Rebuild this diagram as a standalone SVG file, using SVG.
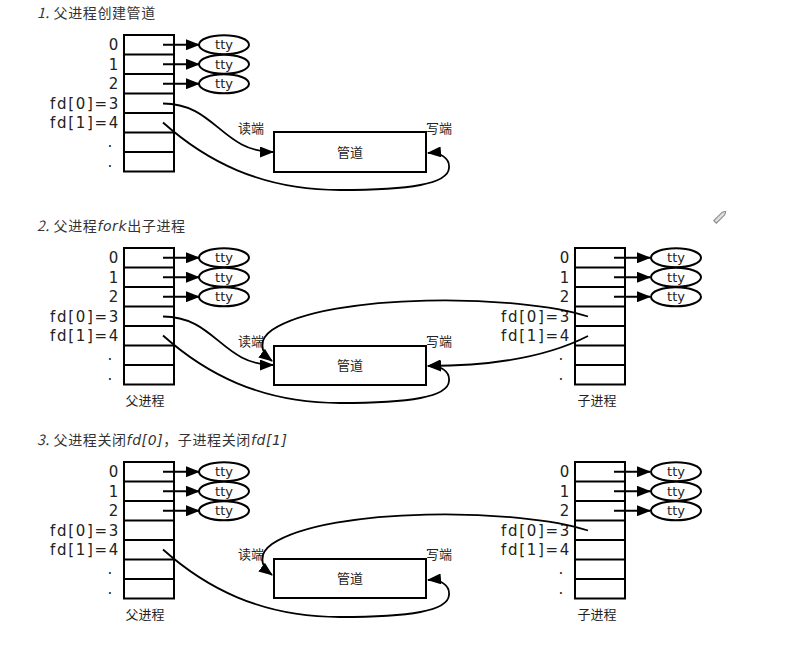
<svg xmlns="http://www.w3.org/2000/svg" width="799" height="669" viewBox="0 0 799 669">
<defs>
<marker id="ah" markerWidth="14" markerHeight="11" refX="13" refY="5.5" orient="auto" markerUnits="userSpaceOnUse">
<path d="M0,0 L14,5.5 L0,11 z" fill="#000"/>
</marker>
<g id="fdtable">
<rect x="124" y="0" width="50" height="136.5" fill="#fff" stroke="#000" stroke-width="2"/>
<path d="M124,19.5 H174 M124,39 H174 M124,58.5 H174 M124,78 H174 M124,97.5 H174 M124,117 H174" stroke="#000" stroke-width="2" fill="none"/>
</g>
</defs>
<style>
.t{font-family:"Noto Sans CJK SC",sans-serif;font-size:13px;fill:#222}
.title{font-family:"Noto Sans CJK SC",sans-serif;font-size:14px;fill:#333;letter-spacing:0.6px}
.lbl{font-family:"DejaVu Sans",sans-serif;font-size:15px;fill:#222;text-anchor:end;letter-spacing:1.7px}
.tty{font-family:"DejaVu Sans",sans-serif;font-size:13px;fill:#222;text-anchor:middle}
.ell{fill:#fff;stroke:#000;stroke-width:2}
.ar{stroke:#000;stroke-width:1.8;fill:none;marker-end:url(#ah)}
.pipe{fill:#fff;stroke:#000;stroke-width:2}
.cj{font-family:"Noto Sans CJK SC",sans-serif;font-size:13px;fill:#222;text-anchor:middle}
</style>
<rect width="799" height="669" fill="#fff"/>

<text class="title" x="37" y="18"><tspan font-style="italic">1. </tspan>父进程创建管道</text>
<text class="title" x="37" y="231"><tspan font-style="italic">2. </tspan>父进程<tspan font-style="italic" font-family="DejaVu Sans">fork</tspan>出子进程</text>
<text class="title" x="37" y="445"><tspan font-style="italic">3. </tspan>父进程关闭<tspan font-style="italic" font-family="DejaVu Sans">fd[0]</tspan>，子进程关闭<tspan font-style="italic" font-family="DejaVu Sans">fd[1]</tspan></text>

<!-- Section 1 -->
<g id="s1-parent" transform="translate(0,35)">
<use href="#fdtable"/>
<text class="lbl" x="120" y="15">0</text>
<text class="lbl" x="120" y="34.5">1</text>
<text class="lbl" x="120" y="54">2</text>
<text class="lbl" x="120" y="73.5">fd[0]=3</text>
<text class="lbl" x="120" y="93">fd[1]=4</text>
<text class="lbl" x="114" y="112">.</text>
<text class="lbl" x="114" y="131.5">.</text>
<ellipse class="ell" cx="224" cy="9.75" rx="25" ry="9.5"/>
<ellipse class="ell" cx="224" cy="29.25" rx="25" ry="9.5"/>
<ellipse class="ell" cx="224" cy="48.75" rx="25" ry="9.5"/>
<text class="tty" x="224" y="14">tty</text>
<text class="tty" x="224" y="33.5">tty</text>
<text class="tty" x="224" y="53">tty</text>
</g>
<g id="s1-pipe">
<rect class="pipe" x="274" y="132" width="152" height="40"/>
<text class="cj" x="350" y="157">管道</text>
<text class="t" x="238" y="133">读端</text>
<text class="t" x="426" y="133">写端</text>
</g>
<g id="s1-connectors">
<path class="ar" d="M163,44.75 H199"/>
<path class="ar" d="M163,64.25 H199"/>
<path class="ar" d="M163,83.75 H199"/>
<path class="ar" d="M163,103.5 C215,103.5 222,152 273,152"/>
<path class="ar" d="M163,122.5 C205,160 260,190 340,190 C410,190 448,184 449,168 C450,158 440,152 428,153"/>
</g>

<!-- Section 2 -->
<g id="s2-parent" transform="translate(0,248)">
<use href="#fdtable"/>
<text class="lbl" x="120" y="15">0</text>
<text class="lbl" x="120" y="34.5">1</text>
<text class="lbl" x="120" y="54">2</text>
<text class="lbl" x="120" y="73.5">fd[0]=3</text>
<text class="lbl" x="120" y="93">fd[1]=4</text>
<text class="lbl" x="114" y="112">.</text>
<text class="lbl" x="114" y="131.5">.</text>
<ellipse class="ell" cx="224" cy="9.75" rx="25" ry="9.5"/>
<ellipse class="ell" cx="224" cy="29.25" rx="25" ry="9.5"/>
<ellipse class="ell" cx="224" cy="48.75" rx="25" ry="9.5"/>
<text class="tty" x="224" y="14">tty</text>
<text class="tty" x="224" y="33.5">tty</text>
<text class="tty" x="224" y="53">tty</text>
<text class="cj" x="145" y="157">父进程</text>
</g>
<g id="s2-child" transform="translate(451,248)">
<use href="#fdtable"/>
<text class="lbl" x="120" y="15">0</text>
<text class="lbl" x="120" y="34.5">1</text>
<text class="lbl" x="120" y="54">2</text>
<text class="lbl" x="120" y="73.5">fd[0]=3</text>
<text class="lbl" x="120" y="93">fd[1]=4</text>
<text class="lbl" x="114" y="112">.</text>
<text class="lbl" x="114" y="131.5">.</text>
<ellipse class="ell" cx="225" cy="9.75" rx="25" ry="9.5"/>
<ellipse class="ell" cx="225" cy="29.25" rx="25" ry="9.5"/>
<ellipse class="ell" cx="225" cy="48.75" rx="25" ry="9.5"/>
<text class="tty" x="225" y="14">tty</text>
<text class="tty" x="225" y="33.5">tty</text>
<text class="tty" x="225" y="53">tty</text>
<text class="cj" x="146" y="157">子进程</text>
</g>
<g id="s2-pipe">
<rect class="pipe" x="274" y="346" width="152" height="39"/>
<text class="cj" x="350" y="370">管道</text>
<text class="t" x="238" y="346">读端</text>
<text class="t" x="426" y="346">写端</text>
</g>
<g id="s2-connectors">
<path class="ar" d="M163,257.75 H199"/>
<path class="ar" d="M163,277.25 H199"/>
<path class="ar" d="M163,296.75 H199"/>
<path class="ar" d="M614,257.75 H650"/>
<path class="ar" d="M614,277.25 H650"/>
<path class="ar" d="M614,296.75 H650"/>
<path class="ar" d="M163,316.5 C215,316.5 222,365 273,365"/>
<path class="ar" d="M163,335.5 C205,373 260,403 340,403 C410,403 448,397 449,381 C450,371 440,365 428,366"/>
<path class="ar" d="M588,316.5 C520,294 330,292 272,330 C258,340 260,352 272,361"/>
<path class="ar" d="M588,336 C545,358 490,366 428,366"/>
</g>

<!-- Section 3 -->
<g id="s3-parent" transform="translate(0,462)">
<use href="#fdtable"/>
<text class="lbl" x="120" y="15">0</text>
<text class="lbl" x="120" y="34.5">1</text>
<text class="lbl" x="120" y="54">2</text>
<text class="lbl" x="120" y="73.5">fd[0]=3</text>
<text class="lbl" x="120" y="93">fd[1]=4</text>
<text class="lbl" x="114" y="112">.</text>
<text class="lbl" x="114" y="131.5">.</text>
<ellipse class="ell" cx="224" cy="9.75" rx="25" ry="9.5"/>
<ellipse class="ell" cx="224" cy="29.25" rx="25" ry="9.5"/>
<ellipse class="ell" cx="224" cy="48.75" rx="25" ry="9.5"/>
<text class="tty" x="224" y="14">tty</text>
<text class="tty" x="224" y="33.5">tty</text>
<text class="tty" x="224" y="53">tty</text>
<text class="cj" x="145" y="157">父进程</text>
</g>
<g id="s3-child" transform="translate(451,462)">
<use href="#fdtable"/>
<text class="lbl" x="120" y="15">0</text>
<text class="lbl" x="120" y="34.5">1</text>
<text class="lbl" x="120" y="54">2</text>
<text class="lbl" x="120" y="73.5">fd[0]=3</text>
<text class="lbl" x="120" y="93">fd[1]=4</text>
<text class="lbl" x="114" y="112">.</text>
<text class="lbl" x="114" y="131.5">.</text>
<ellipse class="ell" cx="225" cy="9.75" rx="25" ry="9.5"/>
<ellipse class="ell" cx="225" cy="29.25" rx="25" ry="9.5"/>
<ellipse class="ell" cx="225" cy="48.75" rx="25" ry="9.5"/>
<text class="tty" x="225" y="14">tty</text>
<text class="tty" x="225" y="33.5">tty</text>
<text class="tty" x="225" y="53">tty</text>
<text class="cj" x="146" y="157">子进程</text>
</g>
<g id="s3-pipe">
<rect class="pipe" x="274" y="559" width="152" height="39"/>
<text class="cj" x="350" y="583">管道</text>
<text class="t" x="238" y="559">读端</text>
<text class="t" x="426" y="559">写端</text>
</g>
<g id="s3-connectors">
<path class="ar" d="M163,471.75 H199"/>
<path class="ar" d="M163,491.25 H199"/>
<path class="ar" d="M163,510.75 H199"/>
<path class="ar" d="M614,471.75 H650"/>
<path class="ar" d="M614,491.25 H650"/>
<path class="ar" d="M614,510.75 H650"/>
<path class="ar" d="M163,549.5 C205,587 260,617 340,617 C410,617 448,611 449,595 C450,585 440,579 428,580"/>
<path class="ar" d="M588,530.5 C520,508 330,506 272,544 C258,554 260,566 272,575"/>
</g>

<g id="pencil" transform="translate(720,217) rotate(-45)">
<path d="M-7,-1.8 H5 L8,0 L5,1.8 H-7 z" fill="#ddd" stroke="#888" stroke-width="1"/>
</g>
</svg>
